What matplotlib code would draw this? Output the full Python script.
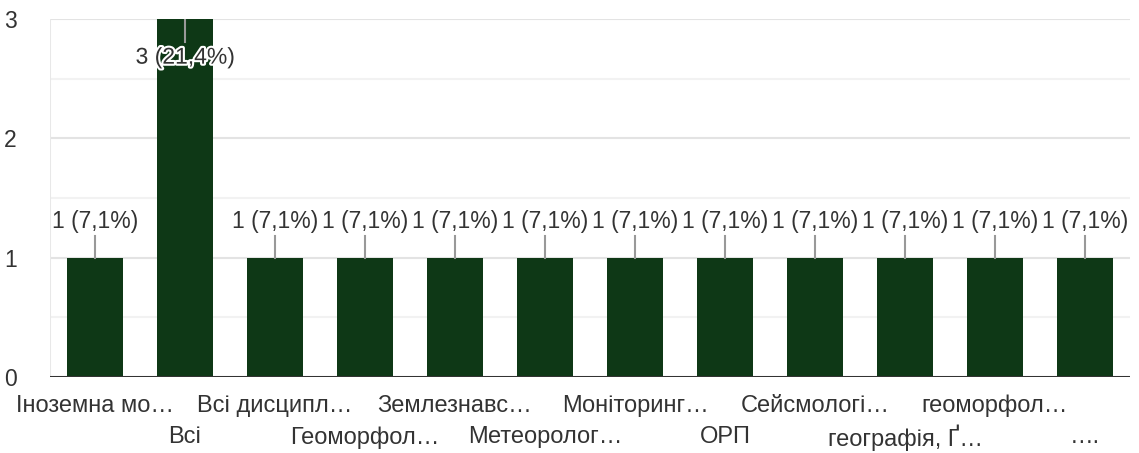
import matplotlib
matplotlib.use("Agg")
import matplotlib.pyplot as plt
import matplotlib.patheffects as pe

categories = ["Іноземна мо…", "Всі", "Всі дисципл…", "Геоморфол…", "Землезнавс…",
              "Метеоролог…", "Моніторинг…", "ОРП", "Сейсмологі…", "географія, Ґ…",
              "геоморфол…", "…."]
values = [1, 3, 1, 1, 1, 1, 1, 1, 1, 1, 1, 1]
labels = ["1 (7,1%)", "3 (21,4%)", "1 (7,1%)", "1 (7,1%)", "1 (7,1%)", "1 (7,1%)",
          "1 (7,1%)", "1 (7,1%)", "1 (7,1%)", "1 (7,1%)", "1 (7,1%)", "1 (7,1%)"]
yticks = [0, 1, 2, 3]

plt.rcParams['font.family'] = ['Liberation Sans', 'DejaVu Sans']
TXT = "#333333"
BAR = "#0e3816"
FS = 16.5
FSX = 17

fig = plt.figure(figsize=(11.39, 4.53), dpi=100)
ax = fig.add_axes([50/1139, 76/453, 1080/1139, 358/453])

x = list(range(len(categories)))
ax.bar(x, values, width=0.63, color=BAR, zorder=3)
ax.set_xlim(-0.5, len(categories) - 0.5)
ax.set_ylim(0, 3)

for yv in [0.5, 1.5, 2.5]:
    ax.axhline(yv, color="#f2f2f2", lw=1.5, zorder=1)
for yv in [1, 2, 3]:
    ax.axhline(yv, color="#e3e3e3", lw=1.5, zorder=1)
ax.axvline(-0.5, color="#e8e8e8", lw=1.5, zorder=1)

for s in ax.spines.values():
    s.set_visible(False)
ax.axhline(0, color="#333333", lw=2.2, zorder=4)

ax.set_yticks(yticks)
ax.set_yticklabels([str(v) for v in yticks])
ax.tick_params(axis="y", length=0, labelsize=FS, colors=TXT, pad=2)
for lab in ax.get_yticklabels():
    lab.set_horizontalalignment("left")
    lab.set_x(-0.040)
ax.set_xticks(x)
ax.set_xticklabels([])
ax.tick_params(axis="x", length=0)

for i, c in enumerate(categories):
    yoff = -0.24 if i % 2 == 0 else -0.505
    ax.text(i, yoff, c, ha="center", va="center", fontsize=FSX, color=TXT,
            transform=ax.transData, clip_on=False)

for i, (v, lab) in enumerate(zip(values, labels)):
    if v >= 3:
        ax.plot([i, i], [v, v - 0.19], color="#999999", lw=1.5, zorder=5)
        t = ax.text(i, v - 0.32, lab, ha="center", va="center", fontsize=FS,
                    color=TXT, zorder=6)
        t.set_path_effects([pe.withStroke(linewidth=3, foreground="white")])
    else:
        ax.plot([i, i], [v, v + 0.18], color="#999999", lw=1.5, zorder=5)
        ax.text(i, v + 0.30, lab, ha="center", va="center", fontsize=FS,
                color=TXT, zorder=6)

fig.savefig("out.png", dpi=100)
